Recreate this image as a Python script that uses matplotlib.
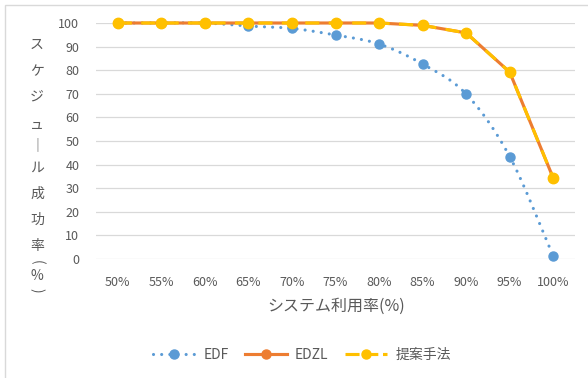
import numpy as np
import matplotlib
matplotlib.use("Agg")
import matplotlib.pyplot as plt
from matplotlib.lines import Line2D
from matplotlib.patches import Rectangle

plt.rcParams['font.family'] = ['Noto Sans CJK JP', 'DejaVu Sans']

# ---- data ----
utilization = ["50%", "55%", "60%", "65%", "70%", "75%", "80%", "85%", "90%", "95%", "100%"]
edf = [100, 100, 100, 98.7, 97.7, 94.9, 91.1, 82.6, 69.9, 43.4, 1.3]
edzl = [100, 100, 100, 100, 100, 100, 100, 99.0, 95.8, 79.2, 34.3]
proposed = [100, 100, 100, 100, 100, 100, 100, 99.0, 95.8, 79.2, 34.3]
y_ticks = [0, 10, 20, 30, 40, 50, 60, 70, 80, 90, 100]

C_EDF = "#5B9BD5"
C_EDZL = "#ED7D31"
C_PROP = "#FFC000"
C_TEXT = "#595959"
C_GRID = "#D9D9D9"


def smooth_curve(xs, ys, n=24):
    """Catmull-Rom spline through the points (smoothed line)."""
    xs = np.asarray(xs, float)
    ys = np.asarray(ys, float)
    px = np.concatenate([[2 * xs[0] - xs[1]], xs, [2 * xs[-1] - xs[-2]]])
    py = np.concatenate([[2 * ys[0] - ys[1]], ys, [2 * ys[-1] - ys[-2]]])
    out_x, out_y = [], []
    t = np.linspace(0, 1, n, endpoint=False)
    for i in range(1, len(px) - 2):
        for arr, out in ((px, out_x), (py, out_y)):
            p0, p1, p2, p3 = arr[i - 1], arr[i], arr[i + 1], arr[i + 2]
            out.extend(0.5 * ((2 * p1) + (-p0 + p2) * t
                              + (2 * p0 - 5 * p1 + 4 * p2 - p3) * t ** 2
                              + (-p0 + 3 * p1 - 3 * p2 + p3) * t ** 3))
    out_x.append(xs[-1])
    out_y.append(ys[-1])
    return np.array(out_x), np.array(out_y)


fig = plt.figure(figsize=(5.88, 3.78), dpi=100)
ax = fig.add_axes([96 / 588, 1 - 259 / 378, 479 / 588, 236 / 378])

x = np.arange(len(utilization))

# gridlines
for yv in y_ticks:
    ax.axhline(yv, color=C_GRID, lw=0.9, zorder=0)

# EDF: smoothed dotted line with markers
sx, sy = smooth_curve(x, edf)
ax.plot(sx, sy, color=C_EDF, lw=2.25, linestyle=(0, (0.01, 2.6)),
        dash_capstyle='round', solid_capstyle='round', zorder=2, clip_on=False)
ax.plot(x, edf, linestyle='none', marker='o', ms=6.5, color=C_EDF, zorder=3, clip_on=False)

# EDZL: solid orange
ax.plot(x, edzl, color=C_EDZL, lw=2.25, marker='o', ms=6.5, zorder=4, clip_on=False)

# Proposed method: yellow long-dash over it
ax.plot(x, proposed, color=C_PROP, lw=2.25, linestyle=(0, (4.5, 3)),
        dash_capstyle='butt', zorder=5, clip_on=False)
ax.plot(x, proposed, linestyle='none', marker='o', ms=7.5, color=C_PROP, zorder=6, clip_on=False)

ax.set_xlim(-0.5, len(utilization) - 0.5)
ax.set_ylim(0, 100)
ax.set_xticks(x)
ax.set_xticklabels(utilization)
ax.set_yticks(y_ticks)
ax.tick_params(axis='both', length=0, colors=C_TEXT, labelsize=9)
ax.tick_params(axis='x', pad=12)
ax.tick_params(axis='y', pad=12)
for s in ax.spines.values():
    s.set_visible(False)
ax.patch.set_alpha(0)

# axis titles
fig.text(336 / 588, 1 - 306 / 378, "システム利用率(%)", ha='center', va='center',
         color=C_TEXT, fontsize=11.5)

# vertical y-axis title, one character per row
ylabel_chars = ["ス", "ケ", "ジ", "ュ", "｜", "ル", "成", "功", "率", "(", "%", ")"]
ylabel_pos = [45, 71, 97, 125, 145, 168, 194, 220, 246, 262, 276, 290]
ylabel_rot = [0, 0, 0, 0, 0, 0, 0, 0, 0, -90, 0, -90]
for ch, yp, rot in zip(ylabel_chars, ylabel_pos, ylabel_rot):
    fig.text(37 / 588, 1 - yp / 378, ch, ha='center', va='center',
             color=C_TEXT, fontsize=10, rotation=rot,
             rotation_mode='anchor')

# legend
handles = [
    Line2D([0], [0], color=C_EDF, lw=2.25, linestyle=(0, (0.01, 2.6)),
           dash_capstyle='round', marker='o', ms=6.5),
    Line2D([0], [0], color=C_EDZL, lw=2.25, marker='o', ms=6.5),
    Line2D([0], [0], color=C_PROP, lw=2.25, linestyle=(0, (4.5, 1.5)), marker='o', ms=6.5),
]
fig.legend(handles, ["EDF", "EDZL", "提案手法"], loc='center',
           bbox_to_anchor=(302 / 588, 1 - 355 / 378), ncol=3, frameon=False,
           fontsize=10, labelcolor=C_TEXT, handlelength=3.0, columnspacing=1.2,
           handletextpad=0.6)

# chart area border
fig.patches.append(Rectangle((5 / 588, -0.05), 1.2, 1 - 5 / 378 + 0.05,
                             transform=fig.transFigure, fill=False,
                             edgecolor="#D9D9D9", lw=1.0))

fig.savefig("out.png", dpi=100)
